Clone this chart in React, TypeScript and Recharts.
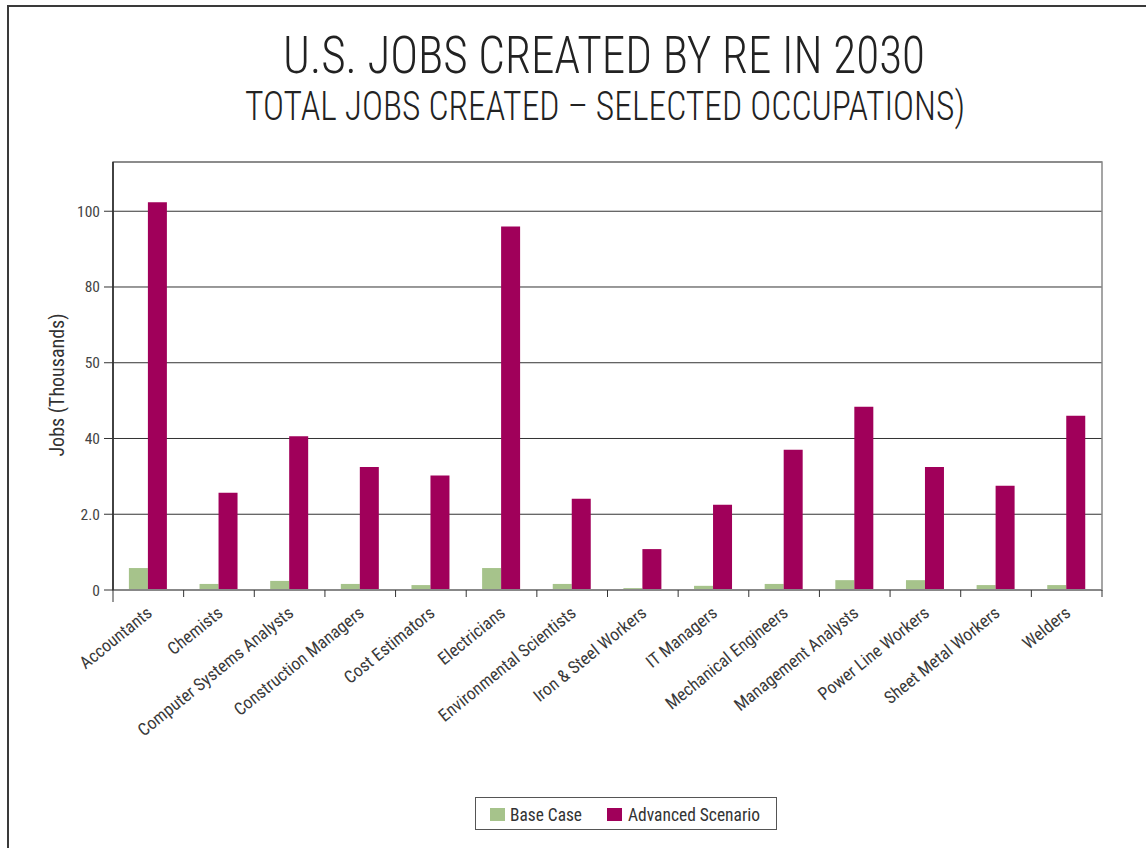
import React from 'react';
import { BarChart, Bar, XAxis, YAxis, CartesianGrid, ReferenceArea } from 'recharts';

const categories = [
  'Accountants',
  'Chemists',
  'Computer Systems Analysts',
  'Construction Managers',
  'Cost Estimators',
  'Electricians',
  'Environmental Scientists',
  'Iron & Steel Workers',
  'IT Managers',
  'Mechanical Engineers',
  'Management Analysts',
  'Power Line Workers',
  'Sheet Metal Workers',
  'Welders',
];

const baseCase = [5.8, 1.6, 2.4, 1.6, 1.3, 5.8, 1.6, 0.5, 1.1, 1.6, 2.6, 2.6, 1.3, 1.3];
const advancedScenario = [102.4, 25.7, 40.6, 32.5, 30.2, 96.0, 24.1, 10.8, 22.5, 37.0, 48.4, 32.5, 27.5, 46.0];

// the original axis labels are printed like this (sic)
const yTicks = [0, 20, 40, 60, 80, 100];
const yTickLabels = ['0', '2.0', '40', '50', '80', '100'];

const seriesNames = ['Base Case', 'Advanced Scenario'];
const seriesColors = ['#a6c38b', '#a0005a'];

const FONT = "'Roboto Condensed', 'Liberation Sans Narrow', 'DejaVu Sans Condensed', sans-serif";
const TITLE_FONT = "'Roboto Condensed', 'Roboto', 'DejaVu Sans', sans-serif";

// plot box
const PLOT_LEFT = 113;
const PLOT_TOP = 162;
const PLOT_RIGHT = 1102;
const BAND = (PLOT_RIGHT - PLOT_LEFT) / categories.length;

const data = categories.map((name, i) => ({
  name,
  base: baseCase[i],
  advanced: advancedScenario[i],
}));

const CategoryTick = (props: any) => {
  const { x, y, payload, index } = props;
  const left = x - BAND / 2;
  const last = index === categories.length - 1;
  const tx = x + 5;
  const ty = y + 25;
  return (
    <g>
      <line x1={left} y1={y} x2={left} y2={y + (index === 0 ? 12 : 7)} stroke="#333" strokeWidth={1} />
      {last && <line x1={x + BAND / 2} y1={y} x2={x + BAND / 2} y2={y + 7} stroke="#333" strokeWidth={1} />}
      <text
        x={tx}
        y={ty}
        textAnchor="end"
        transform={`rotate(-39, ${tx}, ${ty})`}
        fontFamily={FONT}
        fontSize={17.5}
        fill="#3a3a3a"
      >
        {payload.value}
      </text>
    </g>
  );
};

export default function App() {
  return (
    <div style={{ position: 'absolute', left: 0, top: 0, width: 1146, height: 848, overflow: 'hidden', background: '#fff' }}>
      {/* outer frame */}
      <div
        style={{
          position: 'absolute',
          left: 7,
          top: 5,
          width: 1160,
          height: 900,
          borderTop: '2px solid #3a3a3a',
          borderLeft: '2px solid #3a3a3a',
        }}
      />
      <svg width={1146} height={140} style={{ position: 'absolute', left: 0, top: 0 }}>
        <text x={283} y={73} textLength={642} lengthAdjust="spacingAndGlyphs" fontFamily={TITLE_FONT} fontWeight={300} fontSize={52} fill="#222">
          U.S. JOBS CREATED BY RE IN 2030
        </text>
        <text x={245} y={120} textLength={720} lengthAdjust="spacingAndGlyphs" fontFamily={TITLE_FONT} fontWeight={300} fontSize={40} fill="#222">
          TOTAL JOBS CREATED – SELECTED OCCUPATIONS)
        </text>
      </svg>
      <div style={{ position: 'absolute', left: 0, top: 0 }}>
        <BarChart
          width={1146}
          height={848}
          data={data}
          margin={{ top: PLOT_TOP, right: 1146 - PLOT_RIGHT, bottom: 78, left: PLOT_LEFT - 60 }}
          barCategoryGap="22.5%"
          barGap={0}
        >
          <CartesianGrid vertical={false} stroke="#333" strokeWidth={1} />
          <ReferenceArea y1={0} y2={113} fill="none" stroke="#888" strokeWidth={1.5} ifOverflow="visible" />
          <XAxis
            dataKey="name"
            interval={0}
            height={180}
            tickSize={0}
            tickMargin={0}
            tick={<CategoryTick />}
            axisLine={{ stroke: '#888', strokeWidth: 2 }}
          />
          <YAxis
            width={60}
            domain={[0, 113]}
            ticks={yTicks}
            tickFormatter={(v: number) => yTickLabels[yTicks.indexOf(v)]}
            tickSize={9}
            tickMargin={4}
            tickLine={{ stroke: '#333' }}
            axisLine={{ stroke: '#222', strokeWidth: 1.5 }}
            tick={{ fontFamily: FONT, fontSize: 15.5, fill: '#444' }}
          />
          <Bar dataKey="base" name={seriesNames[0]} fill={seriesColors[0]} isAnimationActive={false} />
          <Bar dataKey="advanced" name={seriesNames[1]} fill={seriesColors[1]} isAnimationActive={false} />
        </BarChart>
      </div>
      <svg width={100} height={848} style={{ position: 'absolute', left: 0, top: 0 }}>
        <text
          x={64}
          y={385}
          textAnchor="middle"
          transform="rotate(-90, 64, 385)"
          fontFamily={FONT}
          fontSize={20}
          fill="#333"
        >
          Jobs (Thousands)
        </text>
      </svg>
      {/* legend */}
      <svg width={310} height={40} style={{ position: 'absolute', left: 470, top: 792 }}>
        <rect x={5.5} y={5.5} width={301} height={32} fill="#fff" stroke="#555" strokeWidth={1} />
        <rect x={20} y={16} width={15} height={13} fill={seriesColors[0]} />
        <text x={40} y={29} textLength={72} lengthAdjust="spacingAndGlyphs" fontFamily={FONT} fontSize={18} fill="#333">
          {seriesNames[0]}
        </text>
        <rect x={137} y={16} width={15} height={13} fill={seriesColors[1]} />
        <text x={158} y={29} textLength={132} lengthAdjust="spacingAndGlyphs" fontFamily={FONT} fontSize={18} fill="#333">
          {seriesNames[1]}
        </text>
      </svg>
    </div>
  );
}
